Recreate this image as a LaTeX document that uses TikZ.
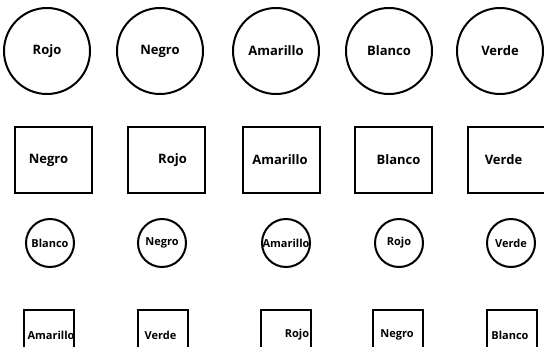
\documentclass[tikz,border=0pt]{standalone}
\usepackage{fontspec}
\setmainfont{Open Sans}
\usepackage{tikz}
\usetikzlibrary{
    positioning,
    shapes.geometric
}
\tikzset{
  bigcirc/.style  = {draw, circle, line width=2pt, minimum size=86pt,
                     inner sep=0pt, font=\fontsize{13}{15}\selectfont\bfseries},
  bigbox/.style   = {draw, line width=2pt, minimum width=77pt,
                     minimum height=66pt, inner sep=0pt},
  smallcirc/.style = {draw, circle, line width=2pt, minimum size=48pt,
                     inner sep=0pt, font=\fontsize{11}{13}\selectfont\bfseries},
  smallbox/.style = {draw, line width=2pt, minimum width=50pt,
                     minimum height=50pt, inner sep=0pt},
  bigtag/.style   = {inner sep=0pt, font=\fontsize{13}{15}\selectfont\bfseries},
  smalltag/.style = {inner sep=0pt, font=\fontsize{11}{13}\selectfont\bfseries}
}

\begin{document}
\begin{tikzpicture}[x=1pt, y=-1pt]
        \useasboundingbox (0,0) rectangle (544,346);
        % row 1: large circles
        \node[bigcirc] (c1) at (47,51)  {Rojo};
        \node[bigcirc] (c2) at (160,51) {Negro};
        \node[bigcirc] (c3) at (276,51) {Amarillo};
        \node[bigcirc] (c4) at (389,51) {Blanco};
        \node[bigcirc] (c5) at (500,51) {Verde};
        % row 2: large squares
        \node[bigbox] (s1) at (53.5,160)  {};
        \node[bigbox] (s2) at (166.5,160) {};
        \node[bigbox] (s3) at (281,160)   {};
        \node[bigbox] (s4) at (393.5,160) {};
        \node[bigbox] (s5) at (506,160)   {};
        \node[bigtag] (t1) at (48.5,160)  {Negro};
        \node[bigtag] (t2) at (172.5,160) {Rojo};
        \node[bigtag] (t3) at (280,160)   {Amarillo};
        \node[bigtag] (t4) at (398.5,160) {Blanco};
        \node[bigtag] (t5) at (503.5,160) {Verde};
        % row 3: small circles
        \node[smallcirc] (d1) at (50,243)  {Blanco};
        \node[smallcirc] (d2) at (162,243) {Negro};
        \node[smallcirc] (d3) at (286,243) {Amarillo};
        \node[smallcirc] (d4) at (399,243) {Rojo};
        \node[smallcirc] (d5) at (511,243) {Verde};
        % row 4: small squares
        \node[smallbox] (q1) at (49,335)    {};
        \node[smallbox] (q2) at (162.5,335) {};
        \node[smallbox] (q3) at (285.5,335) {};
        \node[smallbox] (q4) at (398,335)   {};
        \node[smallbox] (q5) at (512,335)   {};
        \node[smalltag] (u1) at (51,335)    {Amarillo};
        \node[smalltag] (u2) at (160.5,335) {Verde};
        \node[smalltag] (u3) at (297,335)   {Rojo};
        \node[smalltag] (u4) at (397,335)   {Negro};
        \node[smalltag] (u5) at (510,335)   {Blanco};
      \end{tikzpicture}
\end{document}
